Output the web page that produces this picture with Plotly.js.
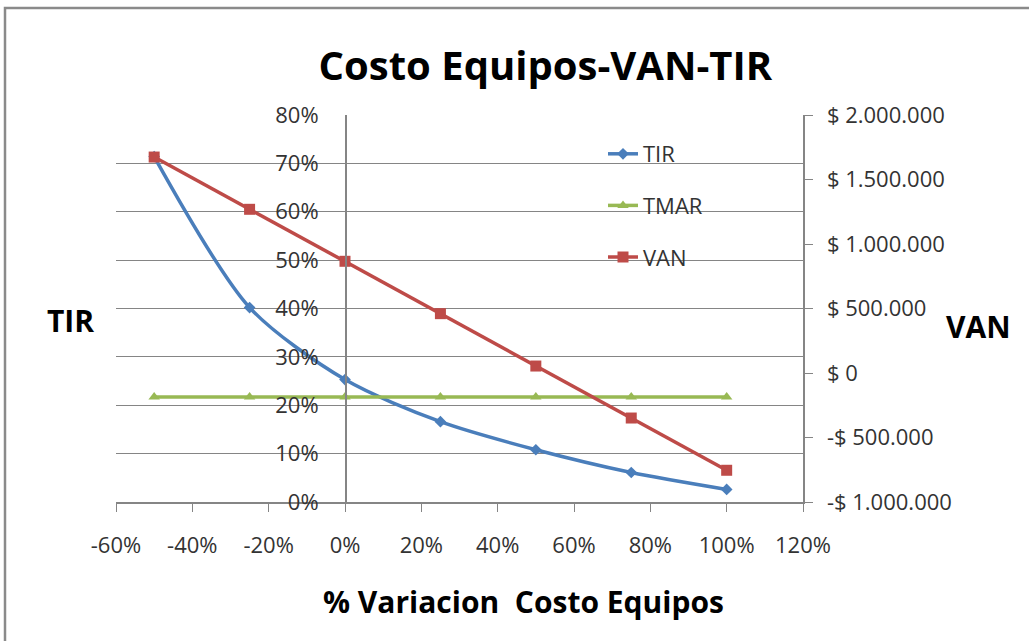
<!DOCTYPE html>
<html>
<head>
<meta charset="utf-8">
<script src="https://cdn.plot.ly/plotly-3.0.1.min.js"></script>
<style>html,body{margin:0;padding:0;background:#fff;}#chart{width:1029px;height:641px;}</style>
</head>
<body>
<div id="chart"></div>
<script>
// Data
const variacion = [-0.50, -0.25, 0, 0.25, 0.50, 0.75, 1.00];
const tir = [0.714, 0.402, 0.253, 0.166, 0.108, 0.061, 0.026];
const tmar = [0.217, 0.217, 0.217, 0.217, 0.217, 0.217, 0.217];
const van = [1674000, 1269000, 866000, 460000, 54000, -349000, -754000];

const xTickVals = [-0.6, -0.4, -0.2, 0, 0.2, 0.4, 0.6, 0.8, 1.0, 1.2];
const xTickText = ['-60%', '-40%', '-20%', '0%', '20%', '40%', '60%', '80%', '100%', '120%'];
const yTickVals = [0, 0.1, 0.2, 0.3, 0.4, 0.5, 0.6, 0.7, 0.8];
const yTickText = ['0%', '10%', '20%', '30%', '40%', '50%', '60%', '70%', '80%'];
const y2TickVals = [-1000000, -500000, 0, 500000, 1000000, 1500000, 2000000];
const y2TickText = ['-$ 1.000.000', '-$ 500.000', '$ 0', '$ 500.000', '$ 1.000.000', '$ 1.500.000', '$ 2.000.000'];

const FONT = 'Open Sans, DejaVu Sans, sans-serif';
const GRID = '#858585';

const traces = [
  {x: variacion, y: tir, name: 'TIR', type: 'scatter', mode: 'lines+markers', legendgroup: 'a',
   line: {color: '#4a7ebb', width: 3.5, shape: 'spline', smoothing: 0.8},
   marker: {symbol: 'diamond', size: 9, color: '#4a7ebb'}},
  {x: variacion, y: tmar, name: 'TMAR', type: 'scatter', mode: 'lines+markers', legendgroup: 'b',
   line: {color: '#98b954', width: 3.5},
   marker: {symbol: 'triangle-up', size: 10, color: '#98b954'}},
  {x: variacion, y: van, name: 'VAN', type: 'scatter', mode: 'lines+markers', yaxis: 'y2', legendgroup: 'c',
   line: {color: '#be4b48', width: 3.5},
   marker: {symbol: 'square', size: 11, color: '#be4b48'}}
];

const L = 116, R = 803, T = 115, B = 502;
const px = v => (v - L) / (R - L);
const py = v => (B - v) / (B - T);

const layout = {
  width: 1029, height: 641,
  margin: {l: L, r: 1029 - R, t: T, b: 641 - B, pad: 0},
  paper_bgcolor: '#ffffff', plot_bgcolor: '#ffffff',
  font: {family: FONT, color: '#333333', size: 22},
  showlegend: true,
  title: {text: '<b>Costo Equipos-VAN-TIR</b>', x: 0.530, xref: 'container', xanchor: 'center',
          y: 1 - 66 / 641, yref: 'container', yanchor: 'middle',
          font: {family: FONT, size: 40, color: '#000000'}},
  legend: {x: px(603), xanchor: 'left', y: py(133), yanchor: 'top', bgcolor: 'rgba(0,0,0,0)',
           font: {family: FONT, size: 22, color: '#333333'}, tracegroupgap: 20, itemwidth: 30},
  xaxis: {range: [-0.6, 1.2], tickvals: xTickVals, ticktext: xTickText, showgrid: false, zeroline: false,
          showline: true, linecolor: GRID, linewidth: 1.5, ticks: 'outside', ticklen: 8, tickcolor: GRID,
          ticklabelstandoff: 15, tickfont: {size: 22}, fixedrange: true},
  yaxis: {range: [0, 0.8], tickvals: yTickVals, ticktext: yTickText, showgrid: true, gridcolor: GRID, gridwidth: 1.2,
          zeroline: false, anchor: 'free', position: 1 / 3, showline: true, linecolor: GRID, linewidth: 1.5,
          ticks: '', ticklabelstandoff: 22, tickfont: {size: 22}, fixedrange: true},
  yaxis2: {range: [-1000000, 2000000], tickvals: y2TickVals, ticktext: y2TickText, overlaying: 'y', side: 'right',
           anchor: 'x', showgrid: false, zeroline: false, showline: true, linecolor: GRID, linewidth: 1.5,
           ticks: 'outside', ticklen: 8, tickcolor: GRID, ticklabelstandoff: 10, tickfont: {size: 22}, fixedrange: true},
  annotations: [
    {text: '<b>TIR</b>', xref: 'paper', yref: 'paper', x: px(70), y: py(320), xanchor: 'center', yanchor: 'middle',
     showarrow: false, font: {family: FONT, size: 30, color: '#000000'}},
    {text: '<b>VAN</b>', xref: 'paper', yref: 'paper', x: px(978), y: py(326), xanchor: 'center', yanchor: 'middle',
     showarrow: false, font: {family: FONT, size: 30, color: '#000000'}},
    {text: '<b>% Variacion  Costo Equipos</b>', xref: 'paper', yref: 'paper', x: px(523), y: py(601),
     xanchor: 'center', yanchor: 'middle', showarrow: false, font: {family: FONT, size: 30, color: '#000000'}}
  ],
  shapes: [
    {type: 'rect', xref: 'paper', yref: 'paper', x0: px(5), x1: px(1040), y0: py(660), y1: py(8),
     line: {color: '#8a8a8a', width: 2.5}, fillcolor: 'rgba(0,0,0,0)', layer: 'below'}
  ]
};

Plotly.newPlot('chart', traces, layout, {displayModeBar: false, staticPlot: true});
</script>
</body>
</html>
